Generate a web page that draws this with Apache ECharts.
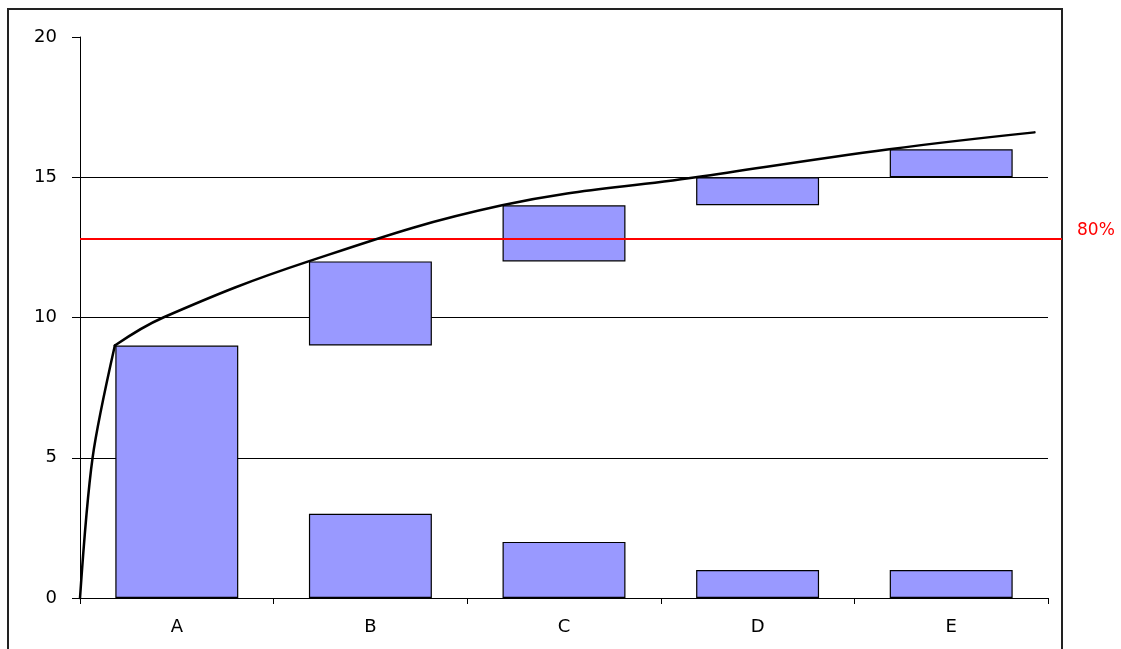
<!DOCTYPE html>
<html>
<head>
<meta charset="utf-8">
<title>Pareto</title>
<script src="https://cdn.jsdelivr.net/npm/echarts@6/dist/echarts.min.js"></script>
<style>
  html, body { margin: 0; padding: 0; background: #ffffff; }
  #chart { width: 1121px; height: 649px; }
</style>
</head>
<body>
<div id="chart"></div>
<script>
// Categories and their individual counts
const categories = ['A', 'B', 'C', 'D', 'E'];
const counts = [9, 3, 2, 1, 1];

// Floating step bars: where each step starts and how tall it is
const stepBase = ['-', 9, 12, 14, 15];
const stepSize = ['-', 3, 2, 1, 1];

// Cumulative curve, x in category units (0 = left of A, 5 = right of E).
// The rise up to A is drawn on its own, the rest continues from A.
const riseX = [0, 0.065, 0.18];
const riseY = [0, 5, 9];
const curveX = [0.18, 0.43, 1.18, 2.18, 3.18, 4.18, 4.93];
const curveY = [9, 10, 12, 14, 15, 16, 16.6];

// Value axis range and the 80% cut-off
const yMin = 0;
const yMax = 20;
const yStep = 5;
const cutoffValue = 12.8;
const cutoffLabel = '80%';

const FONT = 'DejaVu Sans';
const BAR_COLOR = '#9999ff';

const chart = echarts.init(document.getElementById('chart'), null, { renderer: 'canvas' });

const pairs = (xs, ys) => xs.map((x, i) => [x, ys[i]]);

const barStyle = {
  color: BAR_COLOR,
  borderColor: '#000000',
  borderWidth: 1.2
};

const curveStyle = { color: '#000', width: 2.5, cap: 'round', join: 'round' };

chart.setOption({
  backgroundColor: '#ffffff',
  animation: false,
  graphic: [{
    type: 'rect',
    shape: { x: 8, y: 9, width: 1054, height: 700 },
    style: { fill: 'none', stroke: '#222222', lineWidth: 2 },
    silent: true,
    z: -10
  }],
  grid: [
    // main plot area
    { left: 80, right: 73, top: 37, bottom: 51, containLabel: false },
    // the cut-off line runs on to the outer frame
    { left: 80, right: 59, top: 37, bottom: 51, containLabel: false }
  ],
  xAxis: [{
    type: 'category',
    gridIndex: 0,
    data: categories,
    boundaryGap: true,
    axisLine: { show: true, lineStyle: { color: '#000', width: 1 } },
    axisTick: { show: true, length: 6, lineStyle: { color: '#000', width: 1 } },
    axisLabel: { color: '#000', fontFamily: FONT, fontSize: 18, margin: 20 },
    splitLine: { show: false }
  }, {
    type: 'value',
    gridIndex: 0,
    min: 0,
    max: 5,
    show: false
  }, {
    type: 'value',
    gridIndex: 1,
    min: 0,
    max: 1,
    show: false
  }],
  yAxis: [{
    type: 'value',
    gridIndex: 0,
    min: yMin,
    max: yMax,
    interval: yStep,
    axisLine: { show: true, lineStyle: { color: '#000', width: 1 } },
    axisTick: { show: true, length: 8, inside: false, lineStyle: { color: '#000', width: 1 } },
    axisLabel: { color: '#000', fontFamily: FONT, fontSize: 18, margin: 23 },
    splitLine: { show: true, showMinLine: false, showMaxLine: false, lineStyle: { color: '#000', width: 1 } }
  }, {
    type: 'value',
    gridIndex: 1,
    min: yMin,
    max: yMax,
    show: false
  }],
  series: [{
    name: 'Count',
    type: 'bar',
    data: counts,
    barWidth: '63.5%',
    barGap: '-100%',
    itemStyle: barStyle,
    z: 2
  }, {
    name: 'Base',
    type: 'bar',
    stack: 'steps',
    data: stepBase,
    barWidth: '63.5%',
    barGap: '-100%',
    itemStyle: { color: 'rgba(0,0,0,0)', borderWidth: 0 },
    silent: true,
    z: 2
  }, {
    name: 'Step',
    type: 'bar',
    stack: 'steps',
    data: stepSize,
    barWidth: '63.5%',
    barGap: '-100%',
    itemStyle: barStyle,
    z: 2
  }, {
    name: 'Cutoff',
    type: 'line',
    xAxisIndex: 2,
    yAxisIndex: 1,
    data: [[0, cutoffValue], [1, cutoffValue]],
    symbol: 'none',
    clip: false,
    silent: true,
    lineStyle: { color: '#ff0000', width: 2 },
    endLabel: {
      show: true,
      formatter: cutoffLabel,
      color: '#ff0000',
      fontFamily: FONT,
      fontSize: 17,
      distance: 15,
      verticalAlign: 'bottom'
    },
    z: 4
  }, {
    name: 'Rise',
    type: 'line',
    xAxisIndex: 1,
    data: pairs(riseX, riseY),
    smooth: 0.3,
    symbol: 'none',
    clip: false,
    lineStyle: curveStyle,
    z: 5
  }, {
    name: 'Cumulative',
    type: 'line',
    xAxisIndex: 1,
    data: pairs(curveX, curveY),
    smooth: 0.4,
    symbol: 'none',
    clip: false,
    lineStyle: curveStyle,
    z: 5
  }]
});
</script>
</body>
</html>
